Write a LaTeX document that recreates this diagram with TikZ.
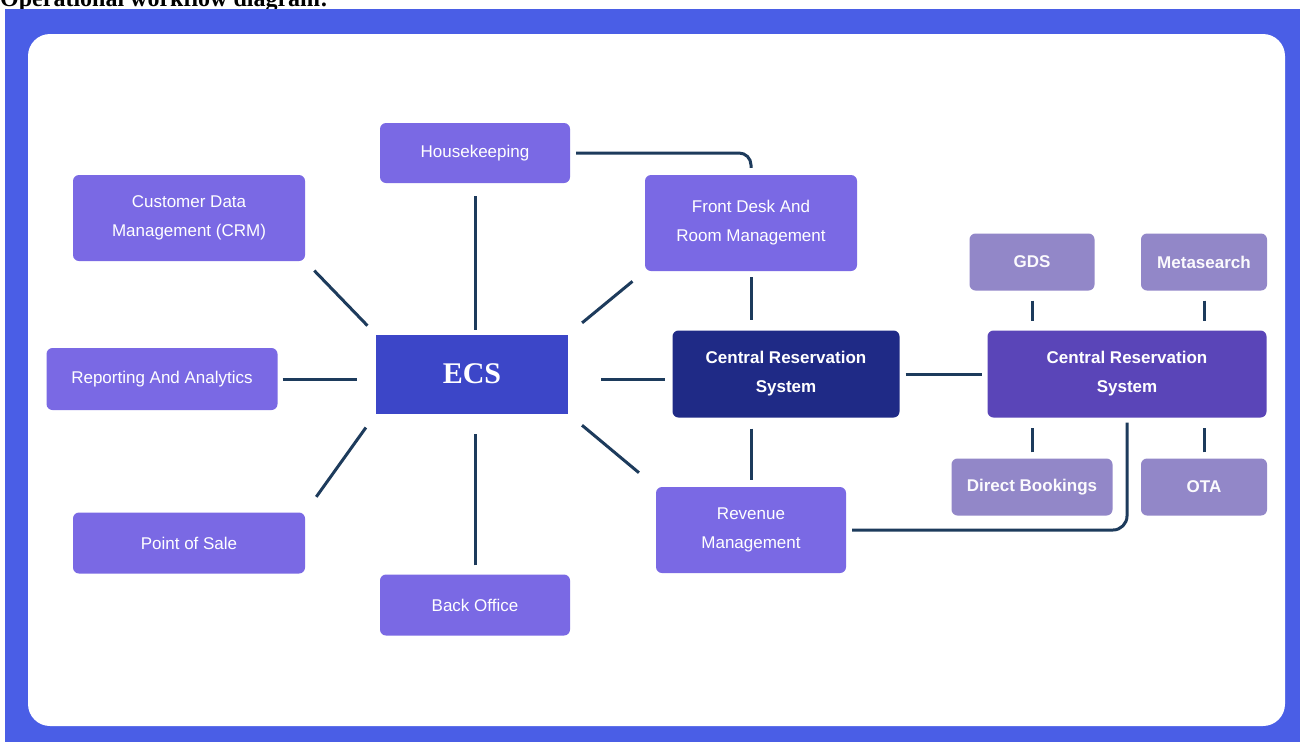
\documentclass[tikz,border=0pt]{standalone}
\usepackage{fontspec}
\setmainfont{Liberation Serif}
\setsansfont{Liberation Sans}
\definecolor{framebl}{HTML}{4A5EE6}
\definecolor{boxpur}{HTML}{7A69E4}
\definecolor{ecsblue}{HTML}{3C46C8}
\definecolor{crsdark}{HTML}{1F2A86}
\definecolor{crsmid}{HTML}{5A45B8}
\definecolor{graypur}{HTML}{9287C8}
\definecolor{linecol}{HTML}{1D3B5C}
\tikzset{
  box/.style={rounded corners=6pt, fill=boxpur, text=white, align=center, inner sep=0pt,
    font=\sffamily\fontsize{17}{29}\selectfont},
  boldbox/.style={box, font=\sffamily\bfseries\fontsize{17}{29}\selectfont},
  graybox/.style={boldbox, fill=graypur, text=white!96!graypur},
  conn/.style={draw=linecol, line width=3pt},
}
\begin{document}
\begin{tikzpicture}[x=1pt,y=-1pt]
\useasboundingbox (0,0) rectangle (1300,742);
\clip (0,0) rectangle (1300,742);
\fill[white] (0,0) rectangle (1300,742);
% cut-off heading
\node[anchor=base west, inner sep=0pt, font=\rmfamily\bfseries\fontsize{24}{28}\selectfont] (head) at (0,6) {Operational workflow diagram:};
% frame
\fill[framebl] (5,9) rectangle (1300,742);
\fill[white, rounded corners=22pt] (28,34) rectangle (1285,726);

% nodes
\node[box, minimum width=190pt, minimum height=60pt] (hk) at (475,153) {Housekeeping};
\node[box, minimum width=232pt, minimum height=86pt] (crm) at (189,218) {Customer Data\\Management (CRM)};
\node[box, minimum width=212pt, minimum height=96pt] (fd) at (751,223) {Front Desk And\\Room Management};
\node[fill=ecsblue, text=white, inner sep=0pt, minimum width=192pt, minimum height=79pt,
  font=\rmfamily\bfseries\fontsize{30}{34}\selectfont] (ecs) at (472,374) {ECS};
\node[box, minimum width=231pt, minimum height=62pt] (rep) at (162,379) {Reporting And Analytics};
\node[boldbox, fill=crsdark, minimum width=227pt, minimum height=87pt] (crs) at (786,374) {Central Reservation\\System};
\node[boldbox, fill=crsmid, minimum width=279pt, minimum height=87pt] (crs2) at (1127,374) {Central Reservation\\System};
\node[graybox, minimum width=125pt, minimum height=57pt] (gds) at (1032,262) {GDS};
\node[graybox, minimum width=126pt, minimum height=57pt] (meta) at (1204,262) {Metasearch};
\node[graybox, minimum width=161pt, minimum height=57pt] (db) at (1032,487) {Direct Bookings};
\node[graybox, minimum width=126pt, minimum height=57pt] (ota) at (1204,487) {OTA};
\node[box, minimum width=232pt, minimum height=61pt] (pos) at (189,543) {Point of Sale};
\node[box, minimum width=190pt, minimum height=61pt] (bo) at (475,605) {Back Office};
\node[box, minimum width=190pt, minimum height=86pt] (rev) at (751,530) {Revenue\\Management};

% connectors around ECS
\draw[conn, shorten <=13pt, shorten >=4pt] (hk.south) -- (hk.south |- ecs.north);
\draw[conn, shorten <=9pt, shorten >=20pt] (bo.north) -- (bo.north |- ecs.south);
\draw[conn, shorten <=13pt, shorten >=12pt] (crm.south east) -- (ecs.north west);
\draw[conn, shorten <=19pt, shorten >=17pt] (pos.north east) -- (ecs.south west);
\draw[conn, shorten <=5pt, shorten >=19pt] (rep.east) -- (rep.east -| ecs.west);
\draw[conn, shorten <=18pt, shorten >=16pt] (ecs.north east) -- (fd.south west);
\draw[conn, shorten <=18pt, shorten >=22pt] (ecs.south east) -- (rev.north west);
\draw[conn, shorten <=33pt, shorten >=7pt] ([yshift=-5pt]ecs.east) -- ([yshift=-5pt]crs.west);

% CRS connectors
\draw[conn, rounded corners=12pt, shorten <=6pt, shorten >=7pt] (hk.east) -- (fd.north |- hk.east) -- (fd.north);
\draw[conn, shorten <=6pt, shorten >=10pt] (fd.south) -- (fd.south |- crs.north);
\draw[conn, shorten <=11pt, shorten >=7pt] (rev.north |- crs.south) -- (rev.north);
\draw[conn, shorten <=6pt, shorten >=5pt] (crs.east) -- (crs2.west);
\draw[conn, rounded corners=14pt, shorten <=6pt, shorten >=5pt] (rev.east) -- (rev.east -| crs2.south) -- (crs2.south);

% channel connectors
\draw[conn, shorten <=10pt, shorten >=9pt] (gds.south) -- (gds.south |- crs2.north);
\draw[conn, shorten <=10pt, shorten >=9pt] (meta.south) -- (meta.south |- crs2.north);
\draw[conn, shorten <=6pt, shorten >=10pt] (db.north) -- (db.north |- crs2.south);
\draw[conn, shorten <=6pt, shorten >=10pt] (ota.north) -- (ota.north |- crs2.south);
\end{tikzpicture}
\end{document}
